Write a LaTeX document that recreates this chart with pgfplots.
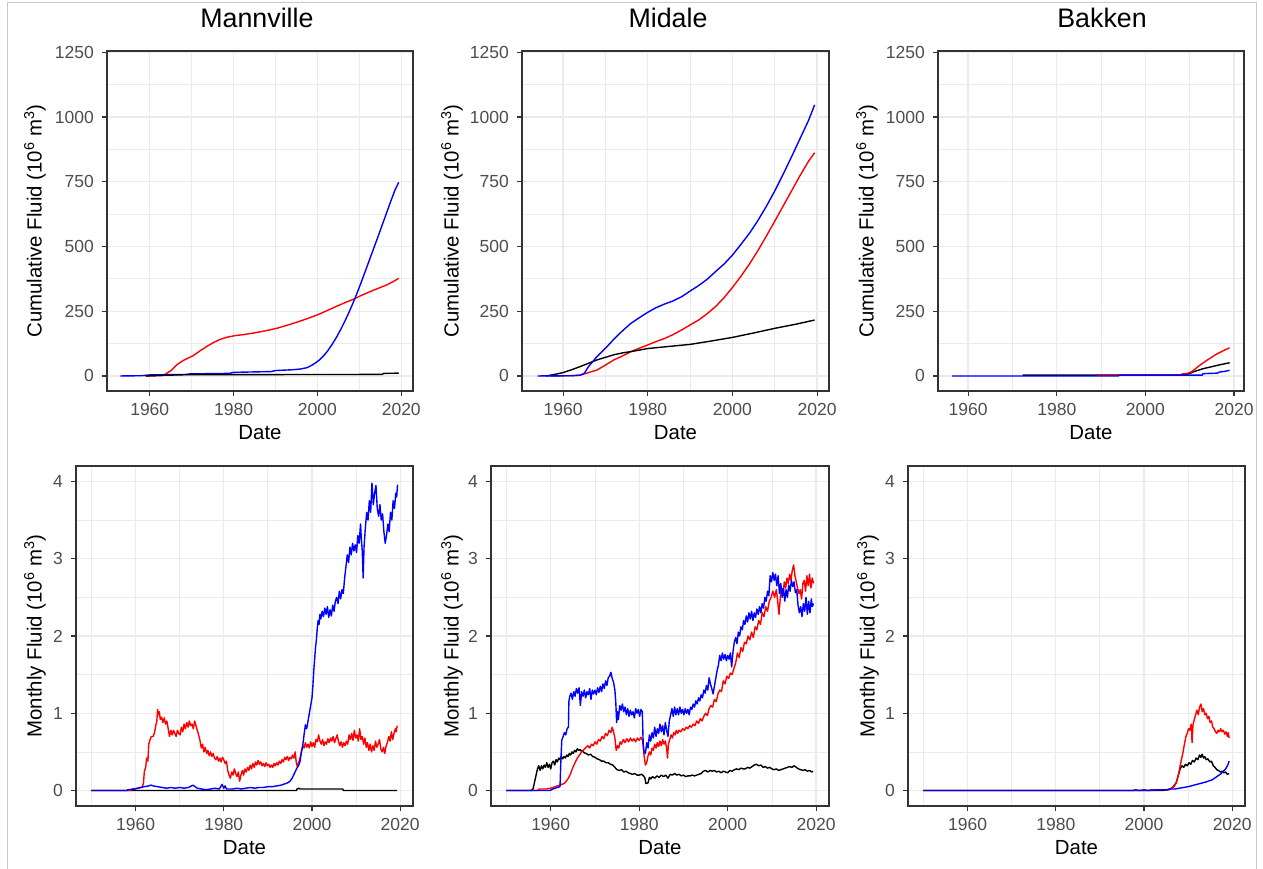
\documentclass[border=0pt]{standalone}
\usepackage{pgfplots}
\pgfplotsset{compat=1.18}
\usepackage{fontspec}
\setmainfont{Liberation Sans}

\definecolor{axgrey}{RGB}{51,51,51}
\definecolor{tickgrey}{RGB}{77,77,77}
\definecolor{gridgrey}{RGB}{235,235,235}
\definecolor{outergrey}{RGB}{200,200,200}

\pgfplotsset{
  panel/.style={
    scale only axis, height=340pt,
    axis line style={draw=axgrey, line width=1.1pt},
    tick align=outside, tick pos=left,
    major tick length=5pt, minor tick length=0pt,
    tick style={draw=axgrey, line width=1.1pt},
    grid=both,
    major grid style={draw=gridgrey, line width=1.4pt},
    minor grid style={draw=gridgrey, line width=0.8pt},
    xtick={1960,1980,2000,2020},
    ticklabel style={font=\fontsize{17.5}{18}\selectfont, text=tickgrey},
    /pgf/number format/assume math mode=true,
    /pgf/number format/1000 sep={},
    scaled ticks=false,
    yticklabel style={anchor=east, inner sep=0pt, xshift=-8pt},
    xticklabel style={anchor=north, inner sep=0pt, yshift=-7pt},
    xlabel=Date,
    label style={font=\fontsize{20.4}{22}\selectfont, text=black},
    xlabel style={at={(axis description cs:0.5,-0.1235)}, anchor=center},
    title style={font=\fontsize{26.8}{30}\selectfont, anchor=center},
    every axis plot/.append style={line width=1.4pt, line join=round},
  },
  cumul/.style={panel, width=306pt, ymin=-58, ymax=1255,
    ytick={0,250,500,750,1000,1250},
    minor ytick={125,375,625,875,1125},
    ylabel={Cumulative Fluid (10\textsuperscript{6} m\textsuperscript{3})}},
  monthly/.style={panel, width=337pt, ymin=-0.2, ymax=4.2,
    xmin=1946.5, xmax=2022.9,
    minor xtick={1950,1970,1990,2010},
    ytick={0,1,2,3,4}, minor ytick={0.5,1.5,2.5,3.5},
    ylabel={Monthly Fluid (10\textsuperscript{6} m\textsuperscript{3})}},
}

\begin{document}
\begin{tikzpicture}[x=1pt,y=1pt]
\useasboundingbox (0,0) rectangle (1263,869);
\draw[outergrey, line width=1pt] (7,-2) -- (7,866) -- (1256,866) -- (1256,-2);

% ---------------- Mannville, cumulative ----------------
\begin{axis}[cumul, at={(107pt,478pt)}, anchor=south west,
  xmin=1949.8, xmax=2022.8, minor xtick={1950,1970,1990,2010},
  title={Mannville},
  title style={at={(axis description cs:0.490,1.079)}},
  ylabel style={at={(axis description cs:-0.2353,0.5)}, anchor=center}]
\addplot[red] coordinates {(1959.0,0) (1962.5,1) (1963.5,5) (1965,20) (1966.6,45) (1968,60) (1970.3,78) (1972,97) (1973.7,115) (1975.3,130) (1976.9,142) (1978.5,150) (1980.4,156) (1982.5,160) (1984.8,166) (1987.5,174) (1990.3,184) (1993,197) (1995.9,212) (1998,224) (2000.3,238) (2002.5,254) (2004.7,270) (2006.7,284) (2008.7,297) (2010.6,312) (2012.6,326) (2014.6,339) (2016.6,352) (2018,364) (2019.4,377)};
\addplot[blue] coordinates {(1953,0) (1958,1) (1960,4) (1969,6) (1969.5,8) (1979,10) (1980,14) (1989,17) (1990,21) (1994,24) (1996,27) (1997.5,32) (1998.5,40) (1999.5,50) (2000.5,62) (2001.5,78) (2002.5,98) (2003.5,122) (2004.5,148) (2005.5,178) (2006.5,210) (2007.5,245) (2008.5,282) (2009.5,322) (2010.5,364) (2011.5,408) (2012.5,452) (2013.5,496) (2014.5,540) (2015.5,585) (2016.5,630) (2017.5,675) (2018.5,718) (2019.4,748)};
\addplot[black] coordinates {(1959,0) (1962,2) (1969,5) (2015.5,6) (2015.8,10) (2019.4,11)};
\end{axis}

% ---------------- Midale, cumulative ----------------
\begin{axis}[cumul, at={(522pt,478pt)}, anchor=south west, width=307pt,
  xmin=1950.3, xmax=2022.8, minor xtick={1970,1990,2010},
  title={Midale},
  title style={at={(axis description cs:0.4756,1.079)}},
  ylabel style={at={(axis description cs:-0.228,0.5)}, anchor=center}]
\addplot[red] coordinates {(1957,0) (1962,1) (1964,3) (1966,13) (1968,23) (1970,42) (1972,62) (1974,77) (1976,94) (1978,107) (1980,120) (1982,133) (1984,145) (1986,160) (1988,178) (1990,197) (1992,216) (1994,240) (1996,268) (1998,302) (2000,342) (2002,385) (2004,432) (2006,484) (2008,540) (2010,598) (2012,657) (2014,716) (2016,775) (2018,830) (2019.4,862)};
\addplot[black] coordinates {(1956,0) (1958,6) (1960,13) (1962,24) (1964,36) (1966,49) (1968,62) (1970,72) (1972,82) (1974,89) (1976,94) (1978,100) (1980,106) (1985,114) (1990,122) (1995,135) (2000,149) (2005,166) (2010,184) (2015,200) (2019.4,216)};
\addplot[blue] coordinates {(1954,0) (1962,1) (1964,3) (1965,10) (1966,36) (1968,75) (1970,107) (1972,142) (1974,174) (1976,203) (1978,225) (1980,246) (1982,264) (1984,278) (1986,290) (1988,306) (1990,328) (1992,349) (1994,373) (1996,403) (1998,432) (2000,467) (2002,508) (2004,551) (2006,600) (2008,655) (2010,715) (2012,780) (2014,848) (2016,918) (2018,988) (2019.4,1047)};
\end{axis}

% ---------------- Bakken, cumulative ----------------
\begin{axis}[cumul, at={(938pt,478pt)}, anchor=south west,
  xmin=1953.2, xmax=2022.25, minor xtick={1970,1990,2010},
  title={Bakken},
  title style={at={(axis description cs:0.536,1.079)}},
  ylabel style={at={(axis description cs:-0.232,0.5)}, anchor=center}]
\addplot[black] coordinates {(1972.3,3) (2009,4) (2010,10) (2011,17) (2013,28) (2015,36) (2017,44) (2019,51)};
\addplot[red] coordinates {(1989,3) (2008,4) (2008.3,8) (2009.5,10) (2010.5,17) (2012,38) (2014,62) (2016,84) (2017.5,97) (2019,109)};
\addplot[blue] coordinates {(1956.4,0) (1993.9,0) (1994.1,3) (2012.8,3) (2013,9) (2016.3,11) (2016.6,15) (2018,18) (2019,22)};
\end{axis}

% ---------------- Mannville, monthly ----------------
\begin{axis}[monthly, at={(76pt,63pt)}, anchor=south west,
  ylabel style={at={(axis description cs:-0.1217,0.5)}, anchor=center}]
\addplot[black] coordinates {(1950,0) (1996.5,0) (1996.6,0.02) (1997,0.03) (1997.3,0.02) (2007,0.02) (2007.1,0) (2019.3,0)};
\addplot[red] coordinates {(1950,0) (1959,0) (1959.2,0.02) (1960.5,0.03) (1961.5,0.04) (1961.8,0.1) (1962,0.25) (1962.3,0.3) (1962.5,0.42) (1962.8,0.38) (1963,0.6) (1963.3,0.66) (1963.6,0.7) (1964,0.7) (1964.3,0.75) (1964.6,0.85) (1964.8,0.88) (1965,1.05) (1965.2,0.98) (1965.4,1.02) (1965.6,0.92) (1965.9,0.95) (1966.2,0.88) (1966.5,0.94) (1966.8,0.86) (1967.1,0.9) (1967.4,0.8) (1967.7,0.7) (1968,0.78) (1968.3,0.72) (1968.6,0.78) (1968.9,0.74) (1969.2,0.7) (1969.5,0.78) (1969.8,0.74) (1970.1,0.72) (1970.4,0.82) (1970.7,0.76) (1971,0.86) (1971.3,0.8) (1971.6,0.88) (1971.9,0.82) (1972.2,0.9) (1972.5,0.84) (1972.8,0.86) (1973.1,0.8) (1973.4,0.9) (1973.7,0.84) (1974,0.78) (1974.3,0.72) (1974.6,0.65) (1974.9,0.55) (1975.2,0.6) (1975.5,0.5) (1975.8,0.56) (1976.1,0.48) (1976.4,0.52) (1976.7,0.45) (1977,0.5) (1977.3,0.44) (1977.6,0.48) (1977.9,0.42) (1978.2,0.4) (1978.5,0.44) (1978.8,0.38) (1979.1,0.42) (1979.4,0.37) (1979.7,0.43) (1980,0.4) (1980.3,0.35) (1980.6,0.38) (1980.9,0.26) (1981.2,0.2) (1981.5,0.16) (1981.8,0.24) (1982.1,0.2) (1982.4,0.28) (1982.7,0.22) (1983,0.18) (1983.3,0.24) (1983.6,0.12) (1983.9,0.2) (1984.2,0.26) (1984.5,0.2) (1984.8,0.28) (1985.1,0.24) (1985.4,0.3) (1985.7,0.26) (1986,0.33) (1986.3,0.28) (1986.6,0.35) (1986.9,0.3) (1987.2,0.37) (1987.5,0.33) (1987.8,0.39) (1988.1,0.34) (1988.4,0.37) (1988.7,0.32) (1989,0.35) (1989.3,0.31) (1989.6,0.36) (1989.9,0.32) (1990.2,0.34) (1990.5,0.3) (1990.8,0.33) (1991.1,0.3) (1991.4,0.35) (1991.7,0.32) (1992,0.36) (1992.3,0.33) (1992.6,0.38) (1992.9,0.35) (1993.2,0.4) (1993.5,0.37) (1993.8,0.43) (1994.1,0.4) (1994.4,0.44) (1994.7,0.39) (1995,0.43) (1995.3,0.41) (1995.6,0.46) (1995.9,0.42) (1996.2,0.5) (1996.4,0.38) (1996.7,0.3) (1997,0.36) (1997.3,0.42) (1997.6,0.5) (1997.9,0.58) (1998.2,0.55) (1998.5,0.62) (1998.8,0.56) (1999.1,0.6) (1999.4,0.55) (1999.7,0.63) (2000,0.57) (2000.3,0.62) (2000.6,0.56) (2000.9,0.66) (2001.2,0.63) (2001.5,0.72) (2001.8,0.64) (2002.1,0.6) (2002.4,0.66) (2002.7,0.58) (2003,0.63) (2003.3,0.6) (2003.6,0.67) (2003.9,0.62) (2004.2,0.68) (2004.5,0.64) (2004.8,0.7) (2005.1,0.62) (2005.4,0.67) (2005.7,0.72) (2006,0.64) (2006.3,0.58) (2006.6,0.63) (2006.9,0.56) (2007.2,0.62) (2007.5,0.58) (2007.8,0.64) (2008.1,0.6) (2008.4,0.72) (2008.7,0.66) (2009,0.74) (2009.3,0.65) (2009.6,0.78) (2009.9,0.68) (2010.2,0.72) (2010.5,0.64) (2010.8,0.8) (2011.1,0.66) (2011.4,0.7) (2011.7,0.6) (2012,0.68) (2012.3,0.56) (2012.6,0.62) (2012.9,0.52) (2013.2,0.6) (2013.5,0.5) (2013.8,0.58) (2014.1,0.52) (2014.4,0.64) (2014.7,0.56) (2015,0.6) (2015.3,0.66) (2015.6,0.54) (2015.9,0.5) (2016.2,0.56) (2016.5,0.48) (2016.8,0.58) (2017.1,0.62) (2017.4,0.7) (2017.7,0.64) (2018,0.76) (2018.3,0.66) (2018.6,0.74) (2018.9,0.8) (2019.1,0.76) (2019.3,0.84)};
\addplot[blue] coordinates {(1950,0) (1958,0) (1958.2,0.01) (1960,0.02) (1961,0.04) (1962,0.05) (1963,0.06) (1963.5,0.07) (1964,0.06) (1965,0.05) (1966,0.04) (1967,0.03) (1968,0.04) (1969,0.03) (1970,0.04) (1971,0.03) (1972,0.04) (1973,0.07) (1973.5,0.05) (1974,0.03) (1975,0.02) (1976,0.01) (1977,0.02) (1978,0.03) (1979,0.02) (1979.6,0.08) (1980,0.03) (1980.3,0.06) (1980.6,0.02) (1982,0.02) (1983,0.03) (1984,0.02) (1985,0.03) (1986,0.04) (1987,0.03) (1988,0.04) (1989,0.04) (1990,0.05) (1991,0.05) (1992,0.06) (1993,0.07) (1994,0.09) (1994.5,0.1) (1995,0.12) (1995.5,0.16) (1996,0.22) (1996.5,0.28) (1997,0.33) (1997.3,0.38) (1997.6,0.5) (1997.9,0.58) (1998.2,0.72) (1998.5,0.85) (1998.8,0.8) (1999.1,0.9) (1999.4,1.0) (1999.7,1.1) (2000,1.2) (2000.2,1.35) (2000.4,1.55) (2000.6,1.7) (2000.8,1.85) (2001,1.95) (2001.2,2.1) (2001.4,2.2) (2001.6,2.15) (2001.8,2.28) (2002,2.22) (2002.3,2.32) (2002.6,2.25) (2002.9,2.36) (2003.2,2.28) (2003.5,2.38) (2003.8,2.24) (2004.1,2.34) (2004.4,2.26) (2004.7,2.4) (2005,2.32) (2005.3,2.45) (2005.6,2.5) (2005.9,2.42) (2006.2,2.58) (2006.5,2.48) (2006.8,2.6) (2007.1,2.55) (2007.4,2.75) (2007.7,2.9) (2008,3.05) (2008.3,2.95) (2008.6,3.15) (2008.9,3.05) (2009.2,3.2) (2009.5,3.1) (2009.8,3.18) (2010.1,3.08) (2010.4,3.3) (2010.7,3.2) (2011,3.45) (2011.2,3.25) (2011.4,3.1) (2011.6,2.75) (2011.8,3.15) (2012.1,3.4) (2012.4,3.6) (2012.7,3.5) (2013,3.75) (2013.3,3.6) (2013.6,3.98) (2013.9,3.7) (2014.2,3.85) (2014.5,3.95) (2014.8,3.65) (2015.1,3.55) (2015.4,3.7) (2015.7,3.5) (2016,3.58) (2016.3,3.35) (2016.6,3.2) (2016.9,3.3) (2017.2,3.45) (2017.5,3.35) (2017.8,3.6) (2018.1,3.5) (2018.4,3.75) (2018.7,3.65) (2019,3.85) (2019.2,3.8) (2019.4,3.96)};
\end{axis}

% ---------------- Midale, monthly ----------------
\begin{axis}[monthly, at={(491pt,63pt)}, anchor=south west, width=338pt,
  ylabel style={at={(axis description cs:-0.1154,0.5)}, anchor=center}]
\addplot[black] coordinates {(1950,0) (1955.5,0) (1956,0.02) (1956.5,0.15) (1957,0.28) (1957.3,0.32) (1957.6,0.26) (1957.9,0.32) (1958.2,0.28) (1958.5,0.33) (1958.8,0.3) (1959.1,0.36) (1959.4,0.3) (1959.7,0.34) (1960,0.28) (1960.3,0.36) (1960.6,0.38) (1960.9,0.33) (1961.2,0.4) (1961.5,0.37) (1961.8,0.42) (1962.1,0.4) (1962.4,0.44) (1962.7,0.41) (1963,0.44) (1963.3,0.42) (1963.6,0.46) (1963.9,0.44) (1964.2,0.48) (1964.5,0.46) (1964.8,0.5) (1965.1,0.48) (1965.4,0.52) (1965.7,0.5) (1966,0.54) (1966.3,0.52) (1966.6,0.53) (1966.9,0.51) (1967.2,0.52) (1967.5,0.49) (1968,0.48) (1968.5,0.46) (1969,0.47) (1969.5,0.44) (1970,0.43) (1970.5,0.41) (1971,0.4) (1971.5,0.38) (1972,0.38) (1972.5,0.36) (1973,0.36) (1973.5,0.34) (1974,0.33) (1974.5,0.3) (1975,0.27) (1975.5,0.26) (1976,0.27) (1976.5,0.24) (1977,0.25) (1977.5,0.23) (1978,0.22) (1978.5,0.21) (1979,0.22) (1979.5,0.2) (1980,0.2) (1980.5,0.21) (1981,0.19) (1981.3,0.16) (1981.5,0.09) (1982,0.1) (1982.3,0.17) (1982.6,0.15) (1983,0.18) (1983.5,0.16) (1984,0.19) (1984.5,0.17) (1985,0.2) (1985.5,0.18) (1986,0.2) (1986.5,0.16) (1987,0.21) (1987.5,0.2) (1988,0.22) (1988.5,0.2) (1989,0.21) (1989.5,0.19) (1990,0.2) (1990.5,0.18) (1991,0.19) (1991.5,0.19) (1992,0.2) (1992.5,0.19) (1993,0.2) (1993.5,0.21) (1994,0.22) (1994.5,0.25) (1995,0.26) (1995.5,0.24) (1996,0.26) (1996.5,0.25) (1997,0.26) (1997.5,0.24) (1998,0.25) (1998.5,0.23) (1999,0.25) (1999.5,0.24) (2000,0.23) (2000.5,0.26) (2001,0.25) (2001.5,0.27) (2002,0.28) (2002.5,0.27) (2003,0.29) (2003.5,0.28) (2004,0.28) (2004.5,0.3) (2005,0.29) (2005.5,0.31) (2006,0.33) (2006.5,0.34) (2007,0.32) (2007.5,0.33) (2008,0.3) (2008.5,0.31) (2009,0.29) (2009.5,0.3) (2010,0.28) (2010.5,0.27) (2011,0.28) (2011.5,0.26) (2012,0.27) (2012.5,0.28) (2013,0.29) (2013.5,0.3) (2014,0.31) (2014.5,0.3) (2015,0.32) (2015.5,0.3) (2016,0.28) (2016.5,0.27) (2017,0.26) (2017.5,0.27) (2018,0.25) (2018.5,0.26) (2019,0.24) (2019.3,0.25)};
\addplot[red] coordinates {(1950,0) (1957,0) (1957.4,0.02) (1959,0.02) (1960,0.03) (1961,0.05) (1962,0.07) (1963,0.09) (1963.5,0.12) (1964,0.16) (1964.5,0.22) (1965,0.3) (1965.5,0.36) (1966,0.42) (1966.5,0.46) (1967,0.5) (1967.5,0.53) (1968,0.56) (1968.4,0.58) (1968.8,0.55) (1969.2,0.6) (1969.6,0.58) (1970,0.63) (1970.4,0.6) (1970.8,0.66) (1971.2,0.64) (1971.6,0.7) (1972,0.67) (1972.4,0.74) (1972.8,0.71) (1973.2,0.78) (1973.6,0.75) (1973.9,0.82) (1974.2,0.76) (1974.5,0.68) (1974.8,0.52) (1975.1,0.58) (1975.4,0.55) (1975.7,0.63) (1976,0.6) (1976.4,0.66) (1976.8,0.62) (1977.2,0.67) (1977.6,0.63) (1978,0.68) (1978.4,0.64) (1978.8,0.67) (1979.2,0.63) (1979.6,0.68) (1980,0.65) (1980.4,0.69) (1980.8,0.64) (1981.1,0.45) (1981.4,0.33) (1981.7,0.36) (1982,0.45) (1982.3,0.5) (1982.6,0.46) (1982.9,0.55) (1983.2,0.52) (1983.5,0.6) (1983.8,0.55) (1984.1,0.62) (1984.4,0.57) (1984.7,0.64) (1985,0.58) (1985.3,0.66) (1985.6,0.6) (1985.9,0.64) (1986.2,0.55) (1986.4,0.42) (1986.6,0.6) (1986.9,0.66) (1987.2,0.72) (1987.5,0.68) (1987.8,0.75) (1988.1,0.72) (1988.4,0.78) (1988.7,0.74) (1989,0.78) (1989.4,0.76) (1989.8,0.8) (1990.2,0.78) (1990.6,0.82) (1991,0.8) (1991.4,0.84) (1991.8,0.82) (1992.2,0.86) (1992.6,0.84) (1993,0.9) (1993.4,0.87) (1993.8,0.93) (1994.2,0.9) (1994.6,0.96) (1995,1.0) (1995.4,0.97) (1995.8,1.06) (1996.2,1.1) (1996.6,1.08) (1997,1.18) (1997.4,1.15) (1997.8,1.25) (1998.2,1.3) (1998.6,1.28) (1999,1.42) (1999.4,1.38) (1999.8,1.48) (2000.2,1.45) (2000.6,1.52) (2001,1.5) (2001.4,1.58) (2001.8,1.65) (2002.2,1.78) (2002.6,1.72) (2003,1.85) (2003.4,1.8) (2003.8,1.92) (2004.2,1.9) (2004.6,2.0) (2005,1.95) (2005.4,2.05) (2005.8,1.98) (2006.2,2.12) (2006.6,2.08) (2007,2.2) (2007.4,2.15) (2007.8,2.3) (2008.2,2.25) (2008.6,2.38) (2009,2.32) (2009.4,2.45) (2009.8,2.5) (2010.2,2.58) (2010.6,2.5) (2011,2.6) (2011.3,2.45) (2011.6,2.28) (2011.9,2.5) (2012.2,2.62) (2012.5,2.55) (2012.8,2.7) (2013.1,2.62) (2013.4,2.75) (2013.7,2.68) (2014,2.8) (2014.3,2.72) (2014.6,2.85) (2014.9,2.92) (2015.2,2.78) (2015.5,2.7) (2015.8,2.62) (2016.1,2.55) (2016.4,2.6) (2016.7,2.48) (2017,2.68) (2017.3,2.72) (2017.6,2.58) (2017.9,2.78) (2018.2,2.65) (2018.5,2.8) (2018.8,2.62) (2019.1,2.75) (2019.4,2.68)};
\addplot[blue] coordinates {(1950,0) (1959.8,0) (1960.5,0.02) (1961.5,0.04) (1962.1,0.05) (1962.3,0.4) (1962.5,0.65) (1962.8,0.7) (1963.1,0.75) (1963.4,0.72) (1963.7,0.8) (1964,0.82) (1964.1,1.15) (1964.3,1.22) (1964.6,1.26) (1964.9,1.18) (1965.2,1.28) (1965.5,1.22) (1965.8,1.32) (1966.1,1.26) (1966.4,1.33) (1966.7,1.1) (1967,1.28) (1967.3,1.22) (1967.6,1.3) (1967.9,1.2) (1968.2,1.28) (1968.5,1.24) (1968.8,1.32) (1969.1,1.18) (1969.4,1.3) (1969.7,1.25) (1970,1.3) (1970.3,1.24) (1970.6,1.33) (1970.9,1.27) (1971.2,1.35) (1971.5,1.28) (1971.8,1.38) (1972.1,1.32) (1972.4,1.42) (1972.7,1.36) (1973,1.46) (1973.3,1.48) (1973.6,1.53) (1973.9,1.45) (1974.2,1.4) (1974.5,1.3) (1974.7,1.15) (1974.9,0.88) (1975.1,1.02) (1975.3,0.92) (1975.6,1.1) (1975.9,1.04) (1976.2,1.12) (1976.5,1.02) (1976.8,1.08) (1977.1,0.98) (1977.4,1.06) (1977.7,0.96) (1978,1.04) (1978.3,0.98) (1978.6,1.02) (1978.9,0.94) (1979.2,1.06) (1979.5,1.0) (1979.8,1.05) (1980.1,0.96) (1980.4,1.05) (1980.7,1.02) (1980.9,0.6) (1981.1,0.5) (1981.4,0.48) (1981.7,0.62) (1982,0.55) (1982.3,0.72) (1982.6,0.64) (1982.9,0.75) (1983.2,0.68) (1983.5,0.82) (1983.8,0.7) (1984.1,0.8) (1984.4,0.74) (1984.7,0.86) (1985,0.76) (1985.3,0.84) (1985.6,0.72) (1985.9,0.88) (1986.2,0.78) (1986.5,0.7) (1986.8,0.9) (1987.1,0.98) (1987.4,1.06) (1987.7,0.96) (1988,1.08) (1988.3,0.98) (1988.6,1.06) (1988.9,0.98) (1989.2,1.08) (1989.5,1.0) (1989.8,1.05) (1990.1,0.98) (1990.4,1.06) (1990.7,1.0) (1991,1.05) (1991.3,0.98) (1991.6,1.08) (1991.9,1.05) (1992.2,1.12) (1992.5,1.08) (1992.8,1.16) (1993.1,1.12) (1993.4,1.2) (1993.7,1.16) (1994,1.24) (1994.3,1.2) (1994.6,1.3) (1994.9,1.26) (1995.2,1.36) (1995.5,1.3) (1995.8,1.46) (1996.1,1.38) (1996.4,1.32) (1996.7,1.25) (1997,1.35) (1997.3,1.45) (1997.6,1.55) (1997.9,1.62) (1998.2,1.75) (1998.5,1.68) (1998.8,1.78) (1999.1,1.7) (1999.4,1.76) (1999.7,1.68) (2000,1.75) (2000.3,1.7) (2000.6,1.78) (2000.9,1.6) (2001.2,1.8) (2001.5,1.92) (2001.8,1.98) (2002.1,1.9) (2002.4,2.05) (2002.7,2.0) (2003,2.12) (2003.3,2.08) (2003.6,2.2) (2003.9,2.15) (2004.2,2.26) (2004.5,2.18) (2004.8,2.3) (2005.1,2.22) (2005.4,2.32) (2005.7,2.2) (2006,2.3) (2006.3,2.24) (2006.6,2.35) (2006.9,2.28) (2007.2,2.38) (2007.5,2.3) (2007.8,2.42) (2008.1,2.36) (2008.4,2.5) (2008.7,2.45) (2009,2.58) (2009.3,2.52) (2009.6,2.78) (2009.9,2.7) (2010.2,2.82) (2010.5,2.72) (2010.8,2.8) (2011.1,2.65) (2011.4,2.78) (2011.7,2.55) (2012,2.68) (2012.3,2.5) (2012.6,2.62) (2012.9,2.45) (2013.2,2.6) (2013.5,2.5) (2013.8,2.66) (2014.1,2.58) (2014.4,2.72) (2014.7,2.64) (2015,2.7) (2015.3,2.56) (2015.6,2.6) (2015.9,2.4) (2016.2,2.3) (2016.5,2.38) (2016.8,2.25) (2017.1,2.42) (2017.4,2.32) (2017.7,2.5) (2018,2.28) (2018.3,2.45) (2018.6,2.3) (2018.9,2.48) (2019.1,2.38) (2019.4,2.42)};
\end{axis}

% ---------------- Bakken, monthly ----------------
\begin{axis}[monthly, at={(908pt,63pt)}, anchor=south west,
  ylabel style={at={(axis description cs:-0.1187,0.5)}, anchor=center}]
\addplot[black] coordinates {(1950,0) (2004,0) (2005.5,0.01) (2006.5,0.04) (2007.3,0.1) (2007.8,0.2) (2008.2,0.28) (2008.6,0.32) (2009,0.3) (2009.4,0.34) (2009.8,0.32) (2010.2,0.36) (2010.6,0.34) (2011,0.39) (2011.4,0.37) (2011.8,0.42) (2012.2,0.4) (2012.6,0.46) (2012.9,0.43) (2013.2,0.47) (2013.5,0.42) (2013.8,0.44) (2014.1,0.4) (2014.5,0.41) (2014.9,0.37) (2015.3,0.38) (2015.7,0.32) (2016.1,0.3) (2016.5,0.27) (2016.9,0.26) (2017.3,0.24) (2017.7,0.25) (2018.1,0.23) (2018.5,0.24) (2018.9,0.21) (2019.3,0.22)};
\addplot[red] coordinates {(1950,0) (2001,0) (2001.5,0.01) (2005.5,0.01) (2006,0.02) (2006.8,0.05) (2007.3,0.1) (2007.7,0.18) (2008,0.26) (2008.4,0.38) (2008.8,0.48) (2009.1,0.58) (2009.5,0.7) (2009.8,0.74) (2010.1,0.8) (2010.4,0.78) (2010.7,0.86) (2010.9,0.62) (2011.1,0.85) (2011.4,0.92) (2011.7,0.98) (2012,1.04) (2012.3,0.98) (2012.6,1.08) (2012.9,1.12) (2013.2,1.02) (2013.5,1.06) (2013.8,0.98) (2014.1,1.0) (2014.4,0.93) (2014.7,0.96) (2015,0.88) (2015.3,0.9) (2015.6,0.82) (2015.9,0.8) (2016.2,0.76) (2016.5,0.74) (2016.8,0.78) (2017.1,0.76) (2017.4,0.8) (2017.7,0.76) (2018,0.78) (2018.3,0.73) (2018.6,0.76) (2018.9,0.7) (2019.1,0.75) (2019.3,0.68)};
\addplot[blue] coordinates {(1950,0) (1997.5,0) (1998,0.01) (1999,0) (2000,0.01) (2001,0) (2003,0.01) (2005,0.01) (2006,0.02) (2007,0.02) (2008,0.03) (2009,0.04) (2010,0.05) (2011,0.065) (2012,0.08) (2013,0.095) (2014,0.11) (2015,0.13) (2015.5,0.14) (2016,0.16) (2016.5,0.18) (2017,0.2) (2017.5,0.22) (2018,0.25) (2018.5,0.28) (2019,0.33) (2019.3,0.38)};
\end{axis}
\end{tikzpicture}
\end{document}
